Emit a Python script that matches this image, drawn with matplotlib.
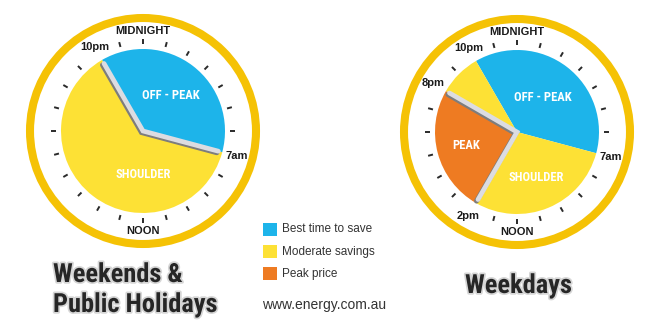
import matplotlib
matplotlib.use('Agg')
import matplotlib.pyplot as plt
import matplotlib.patheffects as pe
from matplotlib.patches import Circle, Rectangle
import numpy as np

# Tariff periods, listed clockwise from 10pm on a 24 hour dial
weekend_periods = ['OFF - PEAK', 'SHOULDER']
weekend_hours = [9, 15]
weekday_periods = ['OFF - PEAK', 'SHOULDER', 'PEAK', 'SHOULDER']
weekday_hours = [9, 7, 6, 2]
dial_start_hour = 22

# hour labels around each dial, and where the clock hands point
weekend_marks = {0: 'MIDNIGHT', 7: '7am', 12: 'NOON', 22: '10pm'}
weekday_marks = {0: 'MIDNIGHT', 7: '7am', 12: 'NOON', 14: '2pm', 20: '8pm', 22: '10pm'}
weekend_hands = [22, 7]
weekday_hands = [20, 14]

legend_labels = ['Best time to save', 'Moderate savings', 'Peak price']
legend_periods = ['OFF - PEAK', 'SHOULDER', 'PEAK']

period_colors = {'OFF - PEAK': '#1DB4EA', 'SHOULDER': '#FDE135', 'PEAK': '#EE7B22'}
ring_color = '#F5C205'
text_dark = '#262626'
narrow = ['Roboto Condensed', 'PT Sans Narrow', 'DejaVu Sans']
plain = ['Liberation Sans', 'DejaVu Sans']

# (hour, radius) where each period name sits inside the dial
weekend_label_at = [(2.5, 45), (12, 43)]
weekday_label_at = [(2.5, 43), (10.5, 49), (17, 53), None]


def hour_xy(cx, cy, hour, r):
    th = np.deg2rad(hour * 15)
    return cx + r * np.sin(th), cy + r * np.cos(th)


def draw_clock(ax, cx, cy, periods, hours, marks, hands, label_at, radius=82):
    ax.pie(hours, colors=[period_colors[p] for p in periods],
           startangle=90 - dial_start_hour * 15, counterclock=False,
           center=(cx, cy), radius=radius, wedgeprops=dict(linewidth=0))

    # outer golden ring
    ax.add_patch(Circle((cx, cy), 113, fill=False, ec=ring_color, lw=5.8))

    # hour ticks
    for h in range(24):
        if h in marks and h not in (0, 12):
            continue
        x0, y0 = hour_xy(cx, cy, h, 87)
        x1, y1 = hour_xy(cx, cy, h, 92)
        ax.plot([x0, x1], [y0, y1], color='#2a2a2a', lw=1.4, solid_capstyle='butt')

    for h, txt in marks.items():
        r = 100 if h in (0, 12) else 97
        x, y = hour_xy(cx, cy, h, r)
        ax.text(x, y, txt, ha='center', va='center', fontsize=8,
                fontweight='bold', family=plain, color='#1a1a1a')

    # clock hands with a dark shadow
    hx = []
    hy = []
    for h in hands:
        x, y = hour_xy(cx, cy, h, 78)
        hx.append(x)
        hy.append(y)
    px = [hx[0], cx, hx[1]]
    py = [hy[0], cy, hy[1]]
    ax.plot([p - 1.5 for p in px], [p - 1.5 for p in py], color='#7d7d7d', lw=3.6,
            solid_joinstyle='miter', solid_capstyle='round')
    ax.plot(px, py, color='#DCDCE1', lw=3.4,
            solid_joinstyle='miter', solid_capstyle='round')

    for name, at in zip(periods, label_at):
        if at is None:
            continue
        x, y = hour_xy(cx, cy, at[0], at[1])
        ax.text(x, y, name, ha='center', va='center', fontsize=9,
                fontweight='bold', family=narrow, color='white')


fig = plt.figure(figsize=(6.61, 3.34), dpi=100)
ax = fig.add_axes([0, 0, 1, 1])

draw_clock(ax, 143, 203, weekend_periods, weekend_hours, weekend_marks,
           weekend_hands, weekend_label_at)
draw_clock(ax, 517, 202, weekday_periods, weekday_hours, weekday_marks,
           weekday_hands, weekday_label_at)

# legend
for i, (lab, per) in enumerate(zip(legend_labels, legend_periods)):
    top = 334 - 223 - i * 22
    ax.add_patch(Rectangle((263, top - 13), 14, 13, color=period_colors[per], lw=0))
    ax.text(282, top - 6.5, lab, ha='left', va='center', fontsize=8.5,
            family=plain, color='#333333')

ax.text(262, 29, 'www.energy.com.au', ha='left', va='center', fontsize=10,
        family=plain, color='#333333')

glow = [pe.withStroke(linewidth=2.5, foreground='#d6d6d6')]
ax.text(53, 52, 'Weekends &', ha='left', va='baseline', fontsize=19,
        fontweight='bold', family=narrow, color=text_dark, path_effects=glow)
ax.text(53, 22, 'Public Holidays', ha='left', va='baseline', fontsize=19,
        fontweight='bold', family=narrow, color=text_dark, path_effects=glow)
ax.text(465, 41, 'Weekdays', ha='left', va='baseline', fontsize=19,
        fontweight='bold', family=narrow, color=text_dark, path_effects=glow)

ax.set_xlim(0, 661)
ax.set_ylim(0, 334)
ax.set_aspect('equal', adjustable='box')
ax.set_axis_off()

fig.savefig('out.png', dpi=100, facecolor='white')
